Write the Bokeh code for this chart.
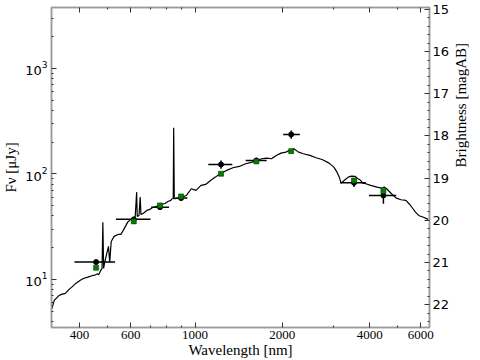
import math
from bokeh.plotting import figure
from bokeh.models import (Range1d, LinearAxis, LogAxis, FixedTicker,
                          LinearScale, ColumnDataSource, CustomJSTickFormatter)
from bokeh.embed import file_html
from bokeh.resources import INLINE

# ---------------- data ----------------
# model spectrum: wavelength [nm], flux density [uJy]
model_wl = [321, 327, 340, 346, 357, 368, 376, 388, 401, 412, 427, 444, 452, 461, 466,
            473, 478, 481, 484, 488, 503, 508, 514, 526, 543, 555, 568, 586, 599, 613,
            622, 629, 632, 641, 647, 651, 662, 682, 698, 714, 731, 747, 765, 788, 806,
            825, 833, 841, 844, 848, 855, 889, 934, 971, 1008, 1048, 1088, 1131, 1175,
            1220, 1284, 1351, 1421, 1495, 1574, 1635, 1699, 1765, 1834, 1905, 1978, 2056,
            2135, 2190, 2275, 2363, 2487, 2615, 2753, 2897, 3009, 3085, 3141, 3189, 3287,
            3374, 3459, 3567, 3641, 3705, 3783, 3879, 4030, 4240, 4406, 4484, 4577, 4755,
            4939, 5131, 5330, 5467, 5606, 5753, 5899, 6128, 6366]
model_flux = [5.28, 6.32, 7.05, 7.21, 7.37, 8.04, 8.45, 9.16, 9.78, 10.2, 10.5, 10.9, 11.0,
              11.3, 11.1, 12.2, 12.7, 34.9, 12.7, 14.5, 20.6, 14.5, 22.9, 25.6, 26.7, 26.7,
              29.8, 34.9, 37.0, 37.9, 39.5, 67.2, 39.5, 40.4, 60.3, 41.3, 42.2, 45.1, 46.1,
              48.1, 48.7, 50.2, 51.4, 52.5, 54.8, 56.1, 58.2, 58.2, 274, 58.2, 58.2, 59.5,
              62.5, 72.4, 69.8, 77.8, 79.5, 86.8, 93.3, 100.4, 108, 114.5, 117.8, 125,
              129.4, 134.3, 139.4, 141.2, 139.4, 149.8, 157.5, 161, 169.6, 173.4, 161,
              155.4, 149.8, 142.4, 136.3, 126.6, 116, 104, 93.3, 81.8, 88.1, 93.3, 95.3,
              94.7, 90.1, 88.1, 81.8, 80.8, 77.8, 75, 73.3, 75, 72.4, 64.9, 59, 56.9, 56.1,
              52.2, 47.8, 43.4, 40.4, 38.9, 37.1]

# observed photometry
phot_wl = [456, 615, 757, 895, 1229, 1627, 2145, 3532, 4460]
phot_wl_lo = [384, 534, 706, 855, 1111, 1495, 2013, 3165, 3978]
phot_wl_hi = [530, 702, 813, 941, 1344, 1765, 2297, 3879, 4939]
phot_flux = [14.6, 37.1, 48.4, 59.0, 123, 134.3, 236.9, 82.5, 62.5]
phot_flux_lo = [14.4, 36.6, 47.8, 58.3, 112, 127.7, 215.6, 75.0, 52.2]
phot_flux_hi = [14.8, 37.6, 49.0, 59.7, 134.3, 141.3, 258.5, 88.1, 69.8]
# model photometry (green squares)
model_phot = [12.9, 35.5, 50.3, 61.2, 100.4, 131.4, 164.5, 86.8, 68.7]

x_ticks = [400, 600, 1000, 2000, 4000, 6000]
x_minor = [500, 700, 800, 900, 3000, 5000]
y_ticks = [10, 100, 1000]
y_minor = [4, 5, 6, 7, 8, 9, 20, 30, 40, 50, 60, 70, 80, 90,
           200, 300, 400, 500, 600, 700, 800, 900, 2000, 3000]
mag_ticks = [15, 16, 17, 18, 19, 20, 21, 22]
mag_minor = [14.2, 14.4, 14.6, 14.8, 15.2, 15.4, 15.6, 15.8, 16.2, 16.4, 16.6, 16.8,
             17.2, 17.4, 17.6, 17.8, 18.2, 18.4, 18.6, 18.8, 19.2, 19.4, 19.6, 19.8,
             20.2, 20.4, 20.6, 20.8, 21.2, 21.4, 21.6, 21.8, 22.2, 22.4]
x_min, x_max = 320, 6430
y_min, y_max = 3.5, 3785
AB_ZP_UJY = 23.9  # AB magnitude of 1 uJy

x_label = "Wavelength [nm]"
y_label = "F\u03bd [\u03bcJy]"
mag_label = "Brightness [magAB]"


def to_mag(f):
    return AB_ZP_UJY - 2.5 * math.log10(f)


SPINE = "#9a9a9a"
TICK = "#333333"
SERIF = "Liberation Serif"
SANS = "DejaVu Sans"

p = figure(width=480, height=360, x_axis_type="log", y_axis_type="log",
           x_range=Range1d(x_min, x_max), y_range=Range1d(y_min, y_max),
           output_backend="svg", toolbar_location=None,
           min_border_left=48, min_border_right=39, min_border_top=7, min_border_bottom=33,
           background_fill_color="white", border_fill_color="white")
p.grid.visible = False
p.outline_line_color = SPINE
p.outline_line_width = 1.5

p.extra_y_ranges = {"mag": Range1d(start=to_mag(y_min), end=to_mag(y_max))}
p.extra_y_scales = {"mag": LinearScale()}


def style(ax, font, size):
    ax.axis_line_color = SPINE
    ax.axis_line_width = 1.5
    ax.major_tick_in = 5
    ax.major_tick_out = 0
    ax.minor_tick_in = 2
    ax.minor_tick_out = 0
    ax.major_tick_line_color = TICK
    ax.minor_tick_line_color = TICK
    ax.major_label_text_font = font
    ax.major_label_text_font_size = size
    ax.major_label_text_color = "black"
    ax.axis_label_text_font = SERIF
    ax.axis_label_text_font_style = "normal"
    ax.axis_label_text_font_size = "15px"
    ax.axis_label_text_color = "black"


xa = p.xaxis[0]
xa.ticker = FixedTicker(ticks=x_ticks, minor_ticks=x_minor)
style(xa, SERIF, "13px")
xa.major_label_standoff = 3
xa.axis_label = x_label
xa.axis_label_standoff = 0

top = LogAxis(ticker=FixedTicker(ticks=x_ticks, minor_ticks=x_minor),
              formatter=CustomJSTickFormatter(code="return ''"))
style(top, SERIF, "10px")
top.major_label_standoff = 0
p.add_layout(top, "above")

ya = p.yaxis[0]
ya.ticker = FixedTicker(ticks=y_ticks, minor_ticks=y_minor)
style(ya, SANS, "13px")
ya.major_label_standoff = 4
ya.axis_label = y_label
ya.axis_label_standoff = 3

ra = LinearAxis(y_range_name="mag", ticker=FixedTicker(ticks=mag_ticks, minor_ticks=mag_minor))
style(ra, SANS, "13px")
ra.major_label_standoff = 3
ra.axis_label = mag_label
ra.axis_label_standoff = 9
if "axis_label_orientation" in ra.properties():
    ra.axis_label_orientation = math.pi / 2
p.add_layout(ra, "right")

# ---------------- marks ----------------
p.line(model_wl, model_flux, line_color="black", line_width=1.2)

src = ColumnDataSource(dict(wl=phot_wl, lo=phot_wl_lo, hi=phot_wl_hi, f=phot_flux,
                            flo=phot_flux_lo, fhi=phot_flux_hi, m=model_phot))
p.segment(x0="lo", x1="hi", y0="f", y1="f", source=src, line_color="black", line_width=1.5)
p.segment(x0="wl", x1="wl", y0="flo", y1="fhi", source=src, line_color="black", line_width=1.5)
p.scatter(x="wl", y="f", source=src, size=5, marker="circle",
          fill_color="black", line_color="black")
p.scatter(x="wl", y="m", source=src, size=5, marker="square",
          fill_color="#008000", line_color="#004000", line_width=0.6)

open("out.html", "w").write(file_html(p, INLINE))
